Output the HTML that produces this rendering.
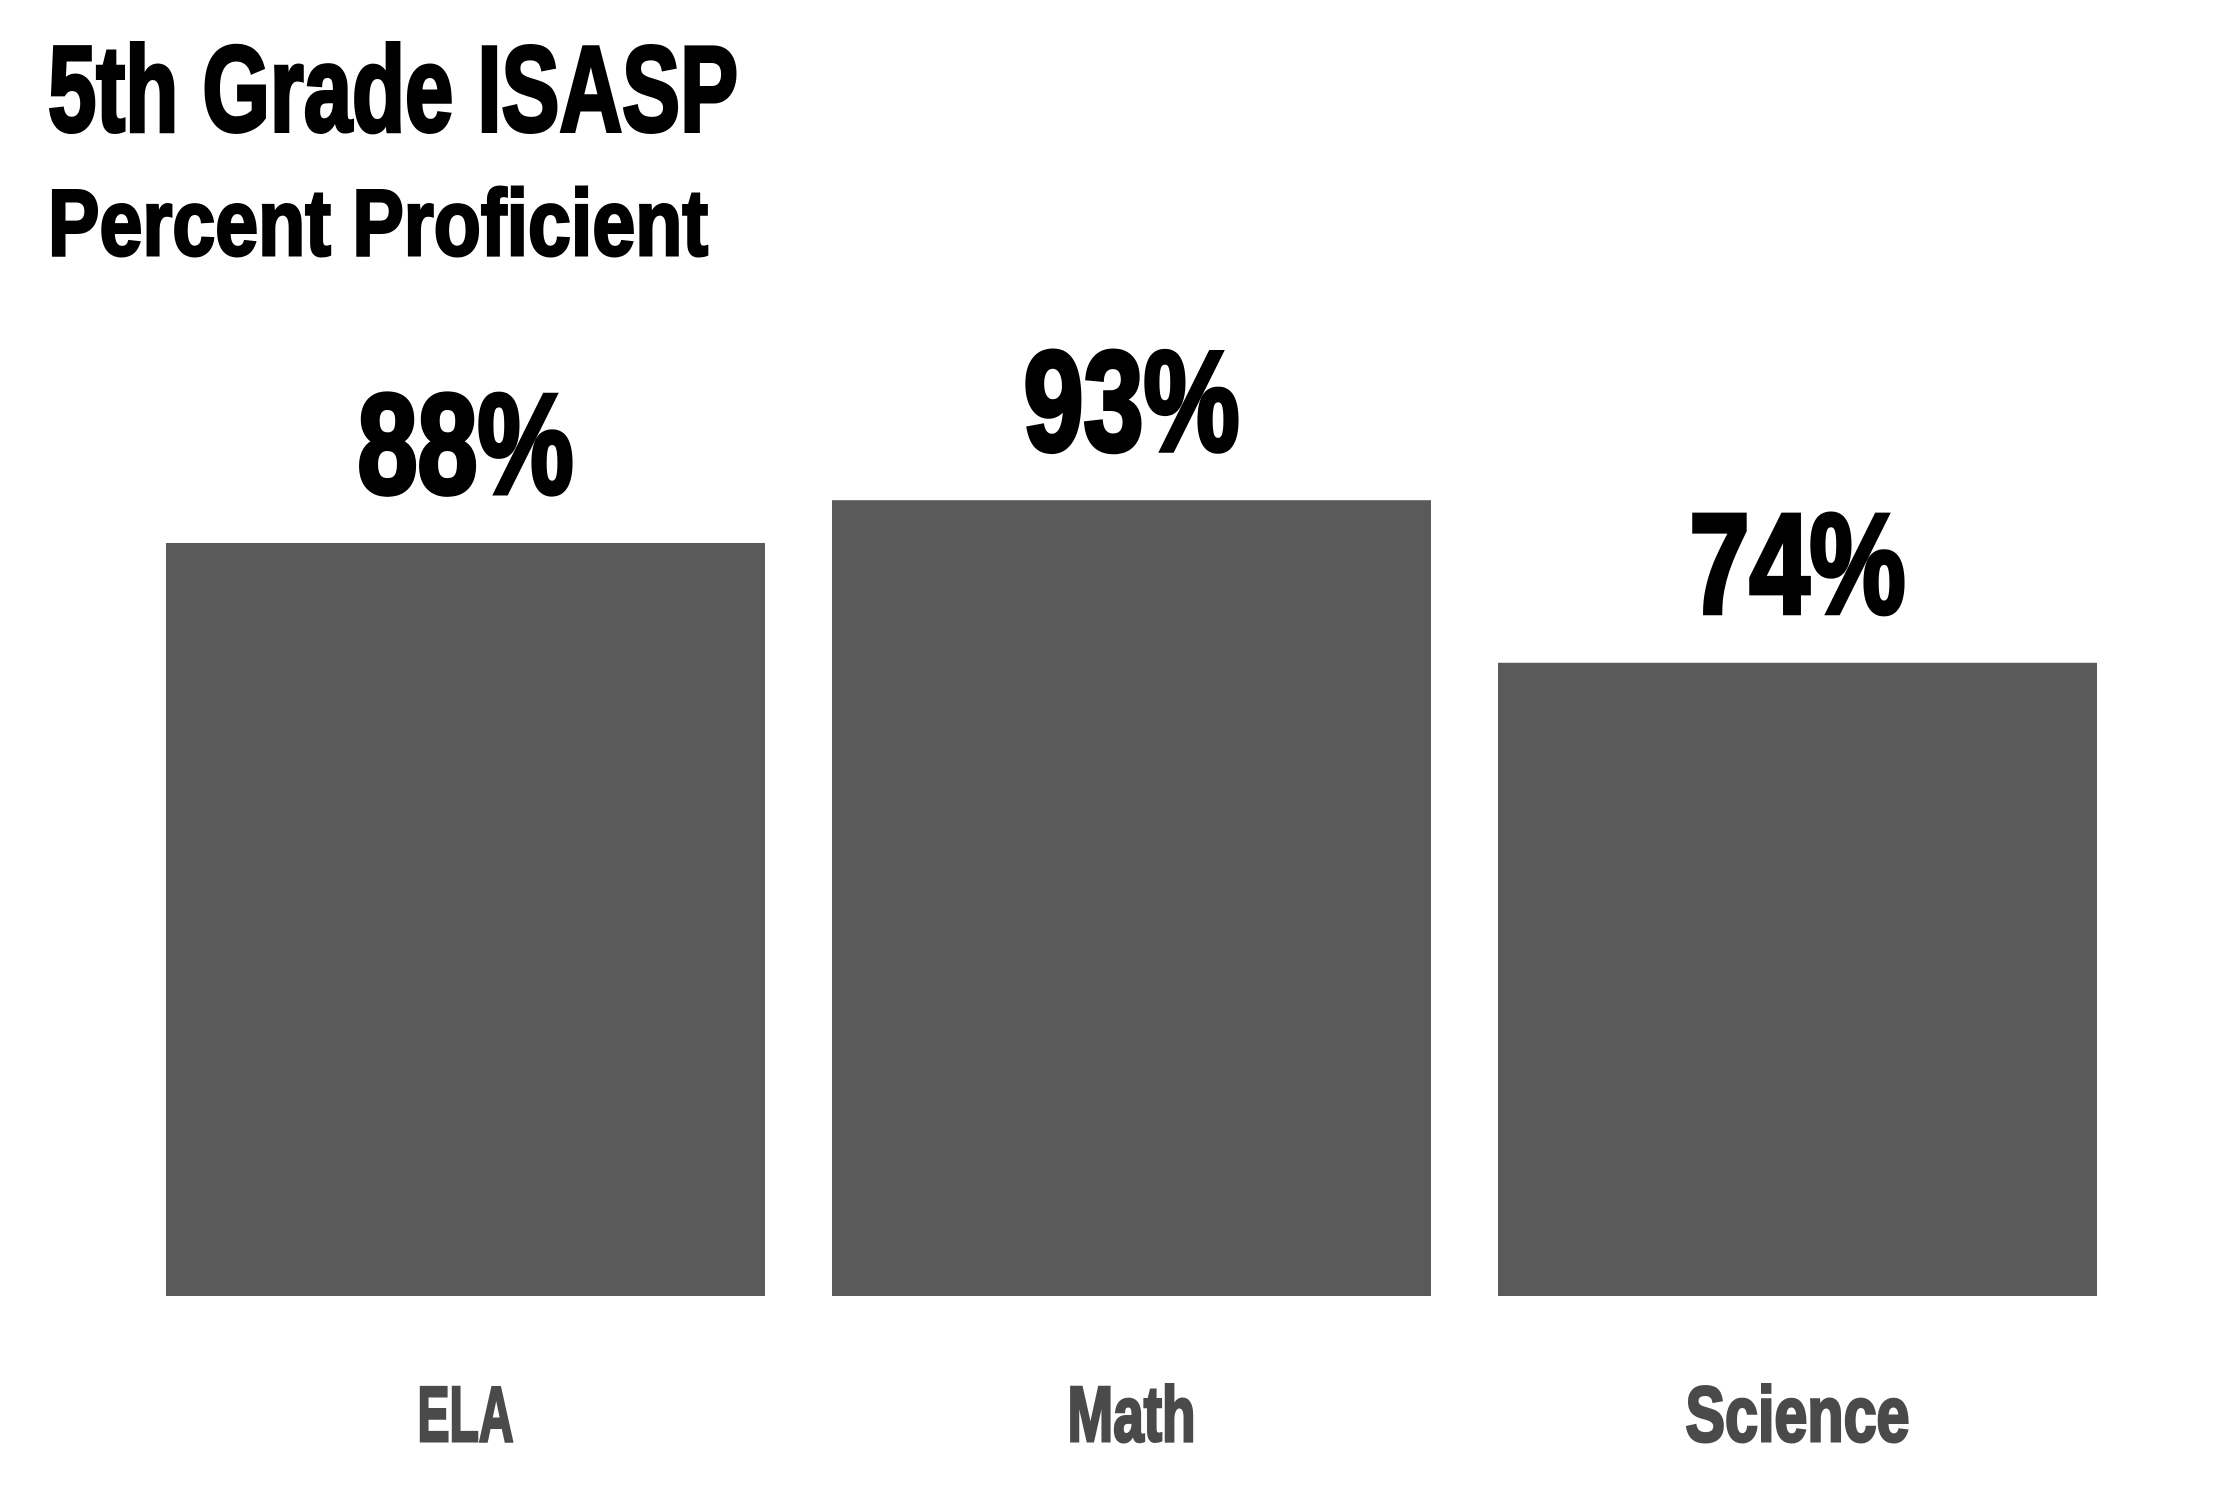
<!DOCTYPE html>
<html><head><meta charset="utf-8"><style>
html,body{margin:0;padding:0;background:#fff;}
svg{display:block;}
text{font-family:"Liberation Sans Narrow","Liberation Sans",sans-serif;font-weight:bold;}
</style></head><body>
<svg id="chart" width="2240" height="1493" viewBox="0 0 2240 1493" xmlns="http://www.w3.org/2000/svg">
<text x="48" y="131" font-size="122" fill="#000" stroke="#000" stroke-width="4" textLength="690" lengthAdjust="spacingAndGlyphs">5th Grade ISASP</text>
<text x="48" y="255" font-size="94" fill="#000" stroke="#000" stroke-width="3" textLength="660" lengthAdjust="spacingAndGlyphs">Percent Proficient</text>
<g id="bars"></g>
</svg>
<script>
const categories = ["ELA", "Math", "Science"];
const values = [88, 93, 74];
const valueLabels = ["88%", "93%", "74%"];

const g = document.getElementById('bars');
const NS = 'http://www.w3.org/2000/svg';
const y0 = 1296, fullH = 855.7;
function yScale(v){ return y0 - v/100*fullH; }
const left = 166, step = 666, barW = 599;
function xScale(i){ return left + i*step; }

categories.forEach((c, i) => {
  const x = xScale(i), y = yScale(values[i]);
  const r = document.createElementNS(NS, 'rect');
  r.setAttribute('x', x); r.setAttribute('y', y);
  r.setAttribute('width', barW); r.setAttribute('height', y0 - y);
  r.setAttribute('fill', '#5a5a5a');
  
  
  g.appendChild(r);

  const t = document.createElementNS(NS, 'text');
  t.setAttribute('x', x + barW/2); t.setAttribute('y', y - 50);
  t.setAttribute('text-anchor', 'middle');
  t.setAttribute('font-size', '142');
  t.setAttribute('fill', '#000');
  t.setAttribute('stroke', '#000');
  t.setAttribute('stroke-width', '5');
  t.setAttribute('textLength', valueLabels[i].length * 72);
  t.setAttribute('lengthAdjust', 'spacingAndGlyphs');
  t.textContent = valueLabels[i];
  
  
  g.appendChild(t);

  const l = document.createElementNS(NS, 'text');
  l.setAttribute('x', x + barW/2); l.setAttribute('y', 1441);
  l.setAttribute('text-anchor', 'middle');
  l.setAttribute('font-size', '78');
  l.setAttribute('fill', '#4a4a4a');
  l.setAttribute('stroke', '#4a4a4a');
  l.setAttribute('stroke-width', '3');
  l.setAttribute('textLength', c.length * 32);
  l.setAttribute('lengthAdjust', 'spacingAndGlyphs');
  l.textContent = c;
  
  
  g.appendChild(l);
});
</script>
</body></html>
